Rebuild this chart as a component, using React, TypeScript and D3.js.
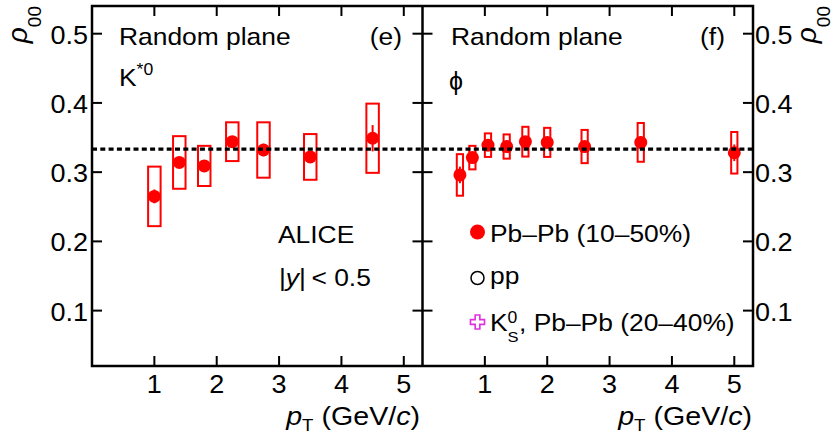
import React from 'react';
import * as d3 from 'd3';

// K*0, random plane (e)
const kstarPt = [1.0, 1.4, 1.8, 2.25, 2.75, 3.5, 4.5];
const kstarRho = [0.265, 0.314, 0.309, 0.344, 0.332, 0.322, 0.349];
const kstarStat = [0.01, 0.008, 0.008, 0.008, 0.009, 0.008, 0.019];
const kstarSys = [0.043, 0.038, 0.029, 0.028, 0.04, 0.033, 0.05];

// phi, random plane (f)
const phiPt = [0.6, 0.8, 1.05, 1.35, 1.65, 2.0, 2.6, 3.5, 5.0];
const phiRho = [0.296, 0.321, 0.339, 0.337, 0.344, 0.343, 0.337, 0.343, 0.328];
const phiStat = [0.012, 0.007, 0.006, 0.006, 0.006, 0.006, 0.007, 0.009, 0.012];
const phiSys = [0.03, 0.017, 0.017, 0.0175, 0.0215, 0.021, 0.024, 0.028, 0.03];

const xTicks = [1, 2, 3, 4, 5];
const yTicks = [0.1, 0.2, 0.3, 0.4, 0.5];
const legendLabels = ['Pb–Pb (10–50%)', 'pp', ', Pb–Pb (20–40%)'];

const FONT = "'Liberation Sans', Arial, Helvetica, sans-serif";
const RED = '#ff0000';

const left = 92;
const mid = 422.5;
const right = 753;
const top = 6;
const bottom = 366;

const y = d3.scaleLinear().domain([0.02, 0.54]).range([bottom, top]);
const xL = d3.scaleLinear().domain([0, 5.3]).range([left, mid]);
const xR = d3.scaleLinear().domain([0, 5.3]).range([mid, right]);

// the original lettering is a bit wider than Arial, so stretch it a little
function T({ x, y, anchor = 'start', size = 24, sx = 1.1, children }) {
  return (
    <text transform={`translate(${x},${y}) scale(${sx},1)`} textAnchor={anchor} fontSize={size}>
      {children}
    </text>
  );
}

function Points({ x, pt, rho, stat, sys, halfW }) {
  return (
    <g>
      {pt.map((p, i) => (
        <rect
          key={'s' + i}
          x={x(p - halfW)}
          y={y(rho[i] + sys[i])}
          width={x(p + halfW) - x(p - halfW)}
          height={y(rho[i] - sys[i]) - y(rho[i] + sys[i])}
          fill="none"
          stroke={RED}
          strokeWidth={2}
        />
      ))}
      {pt.map((p, i) => (
        <line
          key={'e' + i}
          x1={x(p)}
          x2={x(p)}
          y1={y(rho[i] + stat[i])}
          y2={y(rho[i] - stat[i])}
          stroke={RED}
          strokeWidth={2}
        />
      ))}
      {pt.map((p, i) => (
        <circle key={'m' + i} cx={x(p)} cy={y(rho[i])} r={6.5} fill={RED} />
      ))}
    </g>
  );
}

function XAxis({ x, label }) {
  return (
    <g>
      {xTicks.map((t) => (
        <g key={t}>
          <line x1={x(t)} x2={x(t)} y1={bottom} y2={bottom - 10} stroke="#000" strokeWidth={2} />
          <line x1={x(t)} x2={x(t)} y1={top} y2={top + 10} stroke="#000" strokeWidth={2} />
          <T x={x(t)} y={393} anchor="middle" size={25} sx={1.08}>
            {t}
          </T>
        </g>
      ))}
      <T x={label} y={425} anchor="end" size={26}>
        <tspan fontStyle="italic">p</tspan>
        <tspan fontSize={17} dy={6}>T</tspan>
        <tspan dy={-6}> (GeV/</tspan>
        <tspan fontStyle="italic">c</tspan>
        <tspan>)</tspan>
      </T>
    </g>
  );
}

function RhoTitle({ x }) {
  return (
    <text transform={`translate(${x},6) rotate(-90)`} textAnchor="end" fontSize={28}>
      <tspan fontStyle="italic">ρ</tspan>
      <tspan fontSize={19} dy={14}>00</tspan>
    </text>
  );
}

export default function App() {
  const dashY = y(1 / 3);
  const cross = d3.symbol().type(d3.symbolCross).size(110)();
  return (
    <svg
      width={836}
      height={438}
      style={{ position: 'absolute', left: 0, top: 0, background: '#fff' }}
      fontFamily={FONT}
    >
      {/* systematics, stat errors, markers */}
      <Points x={xL} pt={kstarPt} rho={kstarRho} stat={kstarStat} sys={kstarSys} halfW={0.1} />
      <Points x={xR} pt={phiPt} rho={phiRho} stat={phiStat} sys={phiSys} halfW={0.05} />

      {/* rho00 = 1/3 */}
      <line x1={left} x2={right} y1={dashY} y2={dashY} stroke="#000" strokeWidth={3.2} strokeDasharray="5 3.3" />

      {/* frames */}
      <rect x={left} y={top} width={right - left} height={bottom - top} fill="none" stroke="#000" strokeWidth={2.5} />
      <line x1={mid} x2={mid} y1={top} y2={bottom} stroke="#000" strokeWidth={2.5} />

      {/* y ticks */}
      {yTicks.map((t) => (
        <g key={t}>
          <line x1={left} x2={left + 10} y1={y(t)} y2={y(t)} stroke="#000" strokeWidth={2} />
          <line x1={mid - 10} x2={mid + 10} y1={y(t)} y2={y(t)} stroke="#000" strokeWidth={2} />
          <line x1={right - 10} x2={right} y1={y(t)} y2={y(t)} stroke="#000" strokeWidth={2} />
          <T x={88} y={y(t) + 10} anchor="end" size={25} sx={1.08}>
            {t.toFixed(1)}
          </T>
          <T x={755} y={y(t) + 10} size={25} sx={1.08}>
            {t.toFixed(1)}
          </T>
        </g>
      ))}

      <XAxis x={xL} label={420} />
      <XAxis x={xR} label={752} />

      <RhoTitle x={27} />
      <RhoTitle x={816} />

      {/* panel texts */}
      <T x={119} y={45}>Random plane</T>
      <T x={402} y={45} anchor="end">(e)</T>
      <T x={119} y={86}>
        K<tspan fontSize={16} dy={-11}>*0</tspan>
      </T>
      <T x={278} y={243}>ALICE</T>
      <T x={279} y={286}>
        |<tspan fontStyle="italic">y</tspan>|<tspan dx={5}>&lt; 0.5</tspan>
      </T>

      <T x={451} y={45}>Random plane</T>
      <T x={725} y={45} anchor="end">(f)</T>
      <T x={449} y={90} size={25} sx={1}>ϕ</T>

      {/* legend */}
      <circle cx={477.5} cy={232} r={7.5} fill={RED} />
      <T x={490} y={242}>{legendLabels[0]}</T>
      <circle cx={477.5} cy={278} r={6.5} fill="none" stroke="#000" strokeWidth={1.5} />
      <T x={490} y={284}>{legendLabels[1]}</T>
      <path d={cross} transform="translate(477.5,322)" fill="none" stroke="#e030e0" strokeWidth={1.6} />
      <T x={490} y={331}>K</T>
      <T x={507.5} y={323} size={16}>0</T>
      <T x={507.5} y={342} size={15}>S</T>
      <T x={519} y={331}>{legendLabels[2]}</T>
    </svg>
  );
}
